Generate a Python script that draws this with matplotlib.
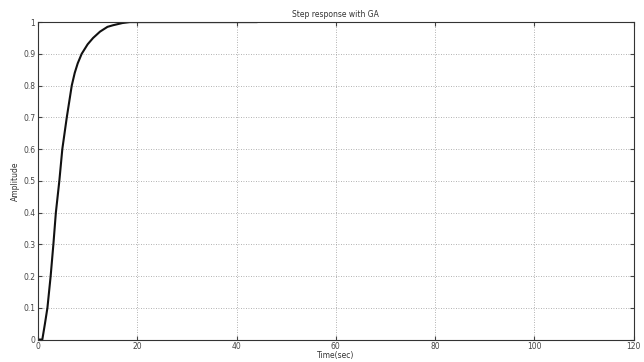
import numpy as np
import matplotlib.pyplot as plt

# step response
time_sec = [0.0, 0.87, 1.4, 1.9, 2.55, 3.1, 3.6, 4.3, 4.9, 5.8, 6.3, 6.8, 7.4, 8.0, 8.8, 9.4, 10.0, 11.1, 12.5, 14.0, 15.1, 17.0, 18.5, 22.0, 30.0, 44.0]
amplitude = [0.0, 0.0, 0.05, 0.1, 0.2, 0.3, 0.4, 0.5, 0.6, 0.7, 0.75, 0.8, 0.84, 0.87, 0.9, 0.915, 0.93, 0.95, 0.97, 0.985, 0.99, 0.997, 1.0, 1.0, 1.0, 1.0]
x_ticks = [0, 20, 40, 60, 80, 100, 120]
y_ticks = [0, 0.1, 0.2, 0.3, 0.4, 0.5, 0.6, 0.7, 0.8, 0.9, 1]
y_labels = ['0', '0.1', '0.2', '0.3', '0.4', '0.5', '0.6', '0.7', '0.8', '0.9', '1']

fig = plt.figure(figsize=(6.44, 3.62), dpi=100)
ax = fig.add_axes([0.059, 0.062, 0.925, 0.877])

ax.plot(time_sec, amplitude, color='#111111', lw=1.5)

ax.set_xlim(0, 120)
ax.set_ylim(0, 1)
ax.set_xticks(x_ticks)
ax.set_yticks(y_ticks)
ax.set_yticklabels(y_labels)
ax.grid(True, ls=(0, (1, 2)), color='#999999', lw=0.6)
ax.tick_params(direction='in', top=True, right=True, labelsize=5.5, colors='#444444', length=3, pad=2)
for s in ax.spines.values():
    s.set_color('#333333')
    s.set_linewidth(0.8)

ax.set_title('Step response with GA', fontsize=5.5, color='#333333', pad=4)
ax.set_xlabel('Time(sec)', fontsize=5.5, color='#333333', labelpad=0)
ax.set_ylabel('Amplitude', fontsize=5.5, color='#333333', labelpad=2)

fig.savefig('out.png', dpi=100)
